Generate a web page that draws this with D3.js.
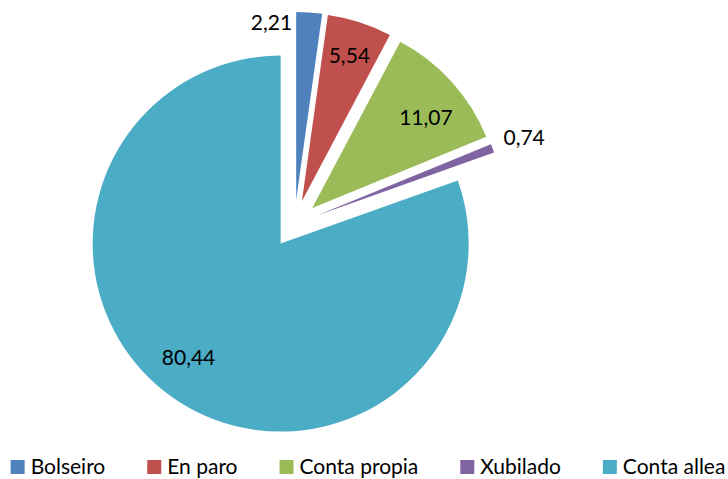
<!DOCTYPE html>
<html>
<head>
<meta charset="utf-8">
<script src="https://cdn.jsdelivr.net/npm/d3@7/dist/d3.min.js"></script>
<style>
  html, body { margin: 0; padding: 0; background: #fff; }
  svg text { font-family: Lato, "Open Sans", sans-serif; fill: #000; }
</style>
</head>
<body>
<svg id="chart" width="728" height="479"></svg>
<script>
// Share of each group (%)
const categories = ["Bolseiro", "En paro", "Conta propia", "Xubilado", "Conta allea"];
const values = [2.21, 5.54, 11.07, 0.74, 80.44];
const valueLabels = ["2,21", "5,54", "11,07", "0,74", "80,44"];
const colors = ["#4F81BD", "#C0504D", "#9BBB59", "#8064A2", "#4BACC6"];
// where each value label sits: inside the slice, outside at the end, or beside the slice's start edge
const labelPlacement = ["beside", "inside", "inside", "outside", "inside"];

const svg = d3.select("#chart");
const W = 728, H = 479;
const cx = 294.5, cy = 224;
const radius = 188;
const explode = 24;
const fontSize = 21;

const pie = d3.pie().sort(null).value(d => d)(values);
const arc = d3.arc().innerRadius(0).outerRadius(radius);

const g = svg.append("g").attr("transform", `translate(${cx},${cy})`);

function offset(d) {
  const mid = (d.startAngle + d.endAngle) / 2;
  return [explode * Math.sin(mid), -explode * Math.cos(mid)];
}

const slices = g.selectAll("g.slice")
  .data(pie)
  .join("g")
  .attr("class", "slice")
  .attr("transform", d => { const [dx, dy] = offset(d); return `translate(${dx},${dy})`; });

slices.append("path")
  .attr("d", arc)
  .attr("fill", (d, i) => colors[i]);

// value labels
slices.each(function (d, i) {
  const sel = d3.select(this);
  const mid = (d.startAngle + d.endAngle) / 2;
  let x, y, anchor = "middle";
  if (labelPlacement[i] === "inside") {
    const rr = i === 1 ? radius * 0.82 : radius * 0.775;
    const a = i === 4 ? mid + 0.07 : (i === 2 ? mid + 0.06 : mid);
    x = rr * Math.sin(a);
    y = -rr * Math.cos(a);
  } else if (labelPlacement[i] === "outside") {
    const rr = radius * 1.18;
    x = rr * Math.sin(mid);
    y = -rr * Math.cos(mid);
  } else {
    // to the left of the slice's outer start corner
    x = radius * Math.sin(d.startAngle) - 4;
    y = -radius * Math.cos(d.startAngle) + 9;
    anchor = "end";
  }
  sel.append("text")
    .attr("x", x)
    .attr("y", y)
    .attr("text-anchor", anchor)
    .attr("dominant-baseline", "central")
    .attr("font-size", fontSize)
    .text(valueLabels[i]);
});

// legend along the bottom
const legend = svg.append("g");
const sq = 14, sqGap = 6, itemGap = 42;
const items = legend.selectAll("g.item")
  .data(categories)
  .join("g")
  .attr("class", "item");
items.append("rect")
  .attr("width", sq).attr("height", sq)
  .attr("y", 460)
  .attr("fill", (d, i) => colors[i]);
items.append("text")
  .attr("x", sq + sqGap)
  .attr("y", 474)
  .attr("font-size", fontSize)
  .text(d => d);

const widths = [];
items.each(function () {
  const w = sq + sqGap + d3.select(this).select("text").node().getComputedTextLength();
  widths.push(w);
});
const total = d3.sum(widths) + itemGap * (widths.length - 1);
let xPos = (W - total) / 2 + 4;
items.attr("transform", (d, i) => {
  const t = `translate(${xPos},0)`;
  xPos += widths[i] + itemGap;
  return t;
});
</script>
</body>
</html>
